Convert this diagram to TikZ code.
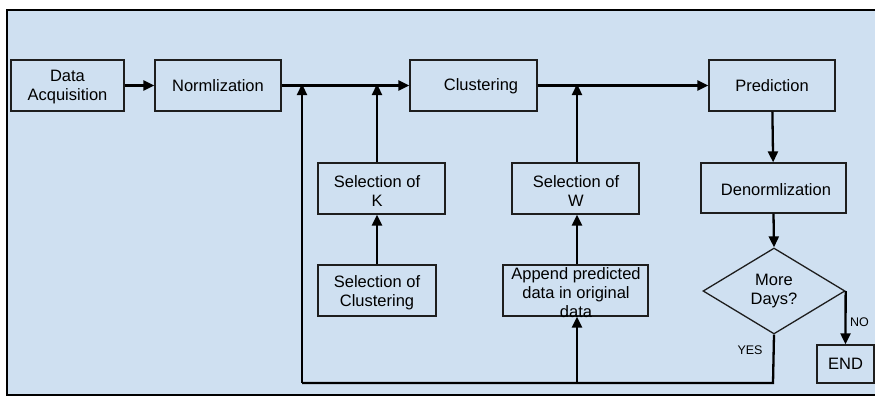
\documentclass[tikz,border=0pt]{standalone}
\usepackage{fontspec}
\setmainfont{Liberation Sans}
\usetikzlibrary{arrows.meta,shapes.geometric}
\definecolor{bgblue}{RGB}{207,224,241}
\definecolor{boxline}{RGB}{30,30,30}
\begin{document}
\begin{tikzpicture}[x=1pt,y=-1pt,
  box/.style={draw=boxline,line width=1.3pt,rectangle,inner sep=0pt,align=center,
    font=\fontsize{16.5}{20}\selectfont},
  txt/.style={inner sep=0pt,align=center,font=\fontsize{16.5}{19}\selectfont},
  lbl/.style={inner sep=0pt,font=\fontsize{12.5}{14}\selectfont},
  arr/.style={line width=2.3pt,-{Triangle[length=11pt,width=10pt]}},
  ln/.style={line width=2.3pt}]
\useasboundingbox (0,0) rectangle (875,397);
\draw[fill=bgblue,draw=black,line width=1.5pt] (7,10) rectangle (880,395);
% boxes
\node[box,minimum width=113,minimum height=51] (da) at (67.5,85.5) {};
\node[txt] (dat) at (67.5,87) {Data\\Acquisition};
\node[box,minimum width=126,minimum height=51] (no) at (218,85.5) {Normlization};
\node[box,minimum width=127,minimum height=51] (cl) at (473.5,85.5) {};
\node[txt] (clt) at (481,86) {Clustering};
\node[box,minimum width=126,minimum height=51] (pr) at (772,85.5) {Prediction};
\node[box,minimum width=145,minimum height=50] (de) at (773.5,188) {};
\node[txt] (det) at (776,190) {Denormlization};
\node[box,minimum width=127,minimum height=51] (sk) at (381.5,188.5) {};
\node[txt] (skt) at (377,191) {Selection of\\K};
\node[box,minimum width=118,minimum height=51] (sc) at (377,290.5) {};
\node[txt] (sct) at (377,292.5) {Selection of\\Clustering};
\node[box,minimum width=127,minimum height=51] (sw) at (575.5,188.5) {};
\node[txt] (swt) at (576,191) {Selection of\\W};
\node[box,minimum width=145,minimum height=51] (ap) at (575.5,290.5) {};
\node[txt] (apt) at (576,293) {Append predicted\\data in original\\data};
\node[draw=boxline,line width=1.3pt,diamond,minimum width=142,minimum height=86,inner sep=0pt,
  align=center,font=\fontsize{16.5}{19}\selectfont] (dm) at (774,291) {More\\Days?};
\node[box,minimum width=57,minimum height=38] (en) at (845.5,364) {END};
% coordinates
\coordinate (j1) at (302,85.5);
\coordinate (j2) at (377,85.5);
\coordinate (j3) at (577,85.5);
\coordinate (b0) at (773,383);
\coordinate (b1) at (302,383);
\coordinate (b2) at (577,383);
% connectors
\draw[arr] (da) -- (no);
\draw[arr] (no) -- (cl);
\draw[arr] (cl) -- (pr);
\draw[arr] (pr) -- (de);
\draw[arr] (de.south) -- (dm.north);
\draw[arr] (dm.east) -- (en.north);
\draw[ln] (dm.south) -- (b0) -- (b1);
\draw[arr] (b1) -- ([yshift=1.5pt]j1);
\draw[arr] (b2) -- (ap.south -| b2);
\draw[arr] (sk.north -| j2) -- ([yshift=1.5pt]j2);
\draw[arr] (sc.north) -- (sk.south -| sc.north);
\draw[arr] (sw.north -| j3) -- ([yshift=1.5pt]j3);
\draw[arr] (ap.north -| j3) -- (sw.south -| j3);
\node[lbl,anchor=west] (nol) at (850,322) {NO};
\node[lbl] (yes) at (750,350) {YES};
\end{tikzpicture}
\end{document}
